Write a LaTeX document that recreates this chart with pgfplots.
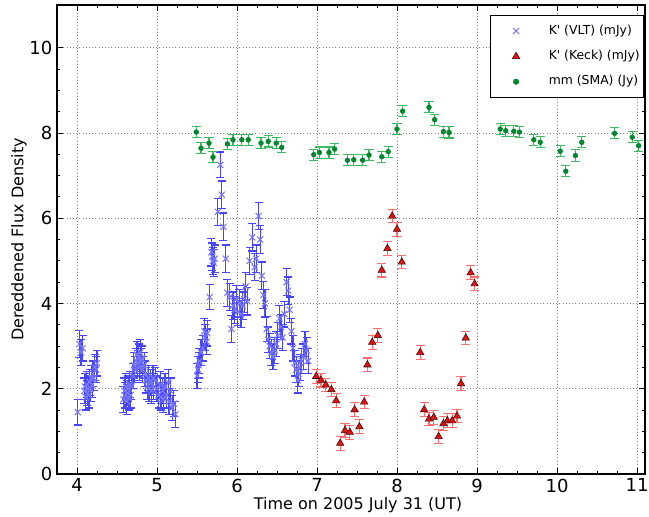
\documentclass[border=0pt]{standalone}
\usepackage{pgfplots}
\pgfplotsset{compat=1.18}
\usepackage{fontspec}
\setmainfont{DejaVu Sans}
\definecolor{vltblue}{RGB}{70,70,255}
\definecolor{vltmark}{RGB}{120,120,255}
\definecolor{keckred}{RGB}{220,20,20}
\definecolor{keckbar}{RGB}{255,110,110}
\definecolor{smagreen}{RGB}{0,135,45}
\definecolor{smabar}{RGB}{60,185,95}
\pgfplotsset{dotlegend/.style={legend image code/.code={
    \path[draw=none, fill=none] (0pt,0pt) -- (40.5pt,0pt);
    \draw[##1, only marks] plot coordinates {(18pt,0pt)};}}}
\begin{document}
\begin{tikzpicture}
\begin{axis}[
scale only axis,
width=441pt, height=351.75pt,
xmin=3.75, xmax=11.1, ymin=0, ymax=11,
xtick={4,5,...,11}, ytick={0,2,...,10},
minor x tick num=3, minor y tick num=3,
major tick length=4.5pt, minor tick length=2.2pt,
axis line style={line width=1pt},
every tick/.style={black, line width=0.6pt},
grid=major,
major grid style={dotted, gray, line width=0.6pt},
tick label style={font=\fontsize{13.5}{15}\selectfont},
/pgf/number format/assume math mode=true,
xlabel={Time on 2005 July 31 (UT)},
ylabel={Dereddened Flux Density},
label style={font=\fontsize{12}{14}\selectfont},
xlabel style={at={(axis description cs:0.512,-0.0661)}, anchor=center},
ylabel style={at={(axis description cs:-0.0646,0.5)}, anchor=center},
legend cell align=left,
legend style={at={(axis description cs:1,1)}, anchor=north east,
  xshift=-0.5pt, yshift=-7.5pt, draw=black, line width=0.9pt,
  font=\fontsize{9.3}{11}\selectfont, inner xsep=1pt, inner ysep=4pt,
  row sep=3.8pt, column sep=0pt,
  nodes={text height=7pt, text depth=2.2pt, inner ysep=3pt}},
]
\addplot[color=vltblue, only marks, mark=x, mark size=3.2pt,
  mark options={draw=vltmark, line width=0.8pt},
  dotlegend,
  error bars/.cd, y dir=both, y explicit,
  error bar style={draw=vltblue, line width=0.9pt},
  error mark options={draw=vltblue, rotate=90, mark size=3pt, line width=0.9pt}]
table[x=x, y=y, y error=e] {
x y e
4.01 1.45 0.30
4.03 3.05 0.32
4.05 2.85 0.30
4.07 2.95 0.30
4.09 1.95 0.30
4.10 2.05 0.30
4.11 1.80 0.30
4.12 2.10 0.30
4.13 1.90 0.30
4.14 2.00 0.30
4.15 1.85 0.30
4.16 2.15 0.30
4.17 2.00 0.30
4.18 2.25 0.30
4.19 2.10 0.30
4.20 2.35 0.30
4.21 2.25 0.30
4.22 2.50 0.30
4.24 2.45 0.30
4.25 2.60 0.30
4.58 1.75 0.30
4.59 1.95 0.30
4.60 1.85 0.30
4.61 2.05 0.30
4.62 1.70 0.30
4.63 1.90 0.30
4.64 2.00 0.30
4.65 1.80 0.30
4.66 2.10 0.30
4.67 1.85 0.30
4.68 2.05 0.30
4.70 2.30 0.30
4.71 2.55 0.30
4.72 2.45 0.30
4.74 2.65 0.30
4.75 2.80 0.30
4.76 2.60 0.30
4.77 2.75 0.30
4.78 2.50 0.30
4.79 2.85 0.30
4.80 2.65 0.30
4.81 2.70 0.30
4.82 2.45 0.30
4.84 2.55 0.30
4.85 2.35 0.30
4.86 2.20 0.30
4.88 2.05 0.30
4.89 2.25 0.30
4.90 2.00 0.30
4.92 2.15 0.30
4.93 1.95 0.30
4.95 2.25 0.30
4.96 2.05 0.30
4.98 2.20 0.30
5.00 2.00 0.30
5.02 1.85 0.30
5.04 2.10 0.30
5.05 1.80 0.30
5.07 1.95 0.30
5.08 1.75 0.30
5.10 2.05 0.30
5.12 1.85 0.30
5.14 2.15 0.30
5.15 1.70 0.30
5.17 1.95 0.30
5.19 1.55 0.30
5.21 1.65 0.30
5.23 1.40 0.30
5.50 2.30 0.30
5.51 2.45 0.30
5.52 2.55 0.30
5.53 2.65 0.30
5.55 2.85 0.30
5.57 2.95 0.30
5.59 3.35 0.30
5.60 3.20 0.30
5.62 3.10 0.30
5.63 3.30 0.30
5.66 4.15 0.30
5.68 5.20 0.32
5.69 5.10 0.32
5.70 5.00 0.32
5.71 4.95 0.32
5.72 5.05 0.32
5.76 6.15 0.32
5.79 7.25 0.30
5.81 6.55 0.32
5.83 5.80 0.32
5.86 5.05 0.32
5.88 4.25 0.32
5.91 4.15 0.32
5.93 3.40 0.32
5.95 3.95 0.32
5.97 3.85 0.32
5.99 4.10 0.32
6.01 3.80 0.32
6.03 4.00 0.32
6.05 3.75 0.32
6.07 3.95 0.32
6.09 4.10 0.32
6.11 4.40 0.32
6.13 4.05 0.32
6.16 5.00 0.32
6.19 5.55 0.32
6.22 4.85 0.32
6.24 5.05 0.32
6.27 6.05 0.32
6.29 5.50 0.32
6.31 4.65 0.32
6.33 4.20 0.32
6.35 4.00 0.32
6.37 3.40 0.30
6.39 3.15 0.30
6.41 3.00 0.30
6.43 2.85 0.30
6.45 2.75 0.30
6.47 2.90 0.30
6.49 3.05 0.30
6.51 3.25 0.30
6.53 3.65 0.30
6.55 3.45 0.30
6.57 3.20 0.30
6.59 3.75 0.30
6.62 4.50 0.32
6.64 4.30 0.32
6.66 3.85 0.30
6.68 3.35 0.30
6.70 2.95 0.30
6.72 2.60 0.30
6.74 2.45 0.30
6.76 2.20 0.30
6.77 2.35 0.30
6.79 2.50 0.30
6.81 2.65 0.30
6.83 2.75 0.30
6.85 3.05 0.30
6.87 2.90 0.30
6.89 2.65 0.30
};
\addlegendentry{K\textquotesingle\ (VLT) (mJy)}
\addplot[color=keckred, only marks, mark=triangle*, mark size=3.2pt,
  mark options={fill=keckred, draw=black!70!keckred, line width=0.4pt},
  dotlegend,
  error bars/.cd, y dir=both, y explicit,
  error bar style={draw=keckbar, line width=0.8pt},
  error mark options={draw=keckbar, rotate=90, mark size=3.5pt, line width=0.8pt}]
table[x=x, y=y, y error=e] {
x y e
6.99 2.29 0.16
7.05 2.20 0.16
7.11 2.09 0.16
7.18 1.98 0.16
7.24 1.72 0.16
7.29 0.72 0.16
7.35 1.02 0.16
7.41 0.98 0.16
7.47 1.51 0.16
7.53 1.11 0.16
7.59 1.69 0.16
7.63 2.56 0.16
7.69 3.09 0.16
7.76 3.25 0.16
7.81 4.78 0.16
7.88 5.29 0.16
7.94 6.05 0.16
8.00 5.74 0.16
8.06 4.97 0.16
8.29 2.85 0.16
8.34 1.51 0.16
8.40 1.29 0.16
8.46 1.33 0.16
8.52 0.88 0.16
8.58 1.18 0.16
8.63 1.25 0.16
8.69 1.25 0.16
8.75 1.36 0.16
8.80 2.12 0.16
8.86 3.19 0.16
8.92 4.72 0.16
8.97 4.46 0.16
};
\addlegendentry{K\textquotesingle\ (Keck) (mJy)}
\addplot[color=smagreen, only marks, mark=*, mark size=1.8pt,
  mark options={fill=smagreen, draw=smagreen},
  dotlegend,
  error bars/.cd, y dir=both, y explicit,
  error bar style={draw=smabar, line width=0.8pt},
  error mark options={draw=smabar, rotate=90, mark size=3.5pt, line width=0.8pt}]
table[x=x, y=y, y error=e] {
x y e
5.49 8.02 0.13
5.55 7.64 0.13
5.65 7.76 0.13
5.70 7.43 0.13
5.88 7.74 0.13
5.95 7.84 0.13
6.06 7.84 0.13
6.14 7.84 0.13
6.30 7.76 0.13
6.39 7.80 0.13
6.49 7.76 0.13
6.56 7.66 0.13
6.96 7.49 0.13
7.03 7.54 0.13
7.15 7.54 0.13
7.22 7.62 0.13
7.38 7.36 0.13
7.46 7.37 0.13
7.57 7.36 0.13
7.65 7.48 0.13
7.81 7.44 0.13
7.89 7.56 0.13
8.00 8.09 0.13
8.07 8.51 0.13
8.40 8.60 0.13
8.47 8.31 0.13
8.58 8.03 0.13
8.65 8.01 0.13
9.29 8.09 0.13
9.36 8.05 0.13
9.46 8.04 0.13
9.53 8.02 0.13
9.71 7.84 0.13
9.79 7.78 0.13
10.04 7.57 0.13
10.11 7.10 0.13
10.23 7.47 0.13
10.31 7.78 0.13
10.72 7.99 0.13
10.94 7.90 0.13
11.02 7.70 0.13
};
\addlegendentry{mm (SMA) (Jy)}
\end{axis}
\pgfresetboundingbox
\path ([shift={(-42.75pt,-31.5pt)}]current axis.south west) rectangle ([shift={(3pt,3.75pt)}]current axis.north east);
\end{tikzpicture}
\end{document}
